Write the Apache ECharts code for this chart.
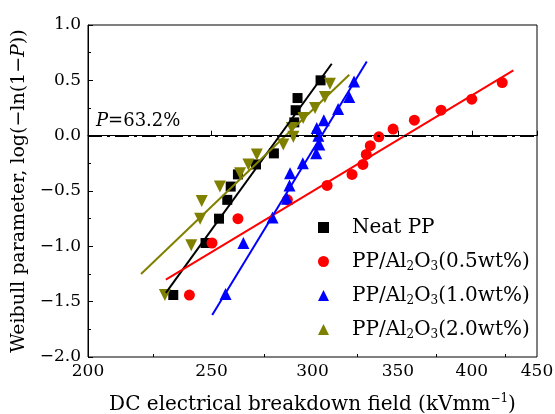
<!DOCTYPE html>
<html>

<head>
    <meta charset="utf-8">
    <script src="https://cdn.jsdelivr.net/npm/echarts@6/dist/echarts.min.js"></script>
</head>

<body style="margin:0">
    <div id="main" style="width: 555px;height:414px;"></div>
    <script type="text/javascript">
        // x ticks (kV/mm), the axis is logarithmic
        var xTicks = [200, 250, 300, 350, 400, 450];
        var xMinorTicks = [225, 275, 325, 375, 425];
        var refLevel = 0; // P = 63.2%

        var names = ['Neat PP', 'PP/Al2O3(0.5wt%)', 'PP/Al2O3(1.0wt%)', 'PP/Al2O3(2.0wt%)'];
        var colors = ['#000000', '#ff0000', '#0000ff', '#808000'];

        var neatX = [233.3, 247.3, 253.4, 257.2, 258.8, 262.2, 270.9, 279.8, 290.3, 291.0, 292.0, 304.4];
        var neatY = [-1.44, -0.97, -0.75, -0.58, -0.46, -0.35, -0.26, -0.16, 0.12, 0.23, 0.34, 0.50];

        var p05X = [240.2, 250.2, 262.2, 286.7, 308.0, 322.2, 328.6, 330.6, 333.0, 338.2, 347.0, 360.6, 378.4, 400.0, 422.6];
        var p05Y = [-1.44, -0.97, -0.75, -0.58, -0.45, -0.35, -0.26, -0.17, -0.09, -0.01, 0.06, 0.14, 0.23, 0.33, 0.48];

        var p10X = [256.4, 264.8, 279.1, 286.5, 287.8, 288.1, 294.8, 302.0, 303.7, 303.2, 302.3, 306.2, 314.2, 320.6, 323.4];
        var p10Y = [-1.43, -0.97, -0.74, -0.57, -0.45, -0.34, -0.25, -0.16, -0.08, 0.00, 0.07, 0.14, 0.24, 0.35, 0.49];

        var p20X = [229.8, 241.0, 244.9, 245.6, 253.8, 263.2, 267.2, 271.3, 284.6, 289.8, 289.0, 295.0, 301.4, 306.8, 309.6];
        var p20Y = [-1.44, -0.99, -0.75, -0.59, -0.46, -0.34, -0.26, -0.17, -0.08, -0.01, 0.07, 0.16, 0.25, 0.35, 0.47];

        // fitted lines (end points)
        var neatFitX = [230.2, 310.6], neatFitY = [-1.42, 0.65];
        var p05FitX = [230.2, 431.2], p05FitY = [-1.30, 0.59];
        var p10FitX = [250.3, 330.9], p10FitY = [-1.62, 0.67];
        var p20FitX = [220.1, 320.6], p20FitY = [-1.25, 0.55];

        var font = 'DejaVu Serif';
        var lg = function (v) { return Math.log10(v); };
        var pairs = function (xs, ys) { return xs.map(function (x, i) { return [lg(x), ys[i]]; }); };

        var symbols = ['rect', 'circle', 'triangle', 'triangle'];
        var sizes = [10, 11, 12, 12];
        var rotates = [0, 0, 0, 180];
        var dataX = [neatX, p05X, p10X, p20X];
        var dataY = [neatY, p05Y, p10Y, p20Y];
        var fitX = [neatFitX, p05FitX, p10FitX, p20FitX];
        var fitY = [neatFitY, p05FitY, p10FitY, p20FitY];

        var series = [];
        names.forEach(function (n, i) {
            var s = {
                name: n,
                type: 'scatter',
                data: pairs(dataX[i], dataY[i]),
                symbol: symbols[i],
                symbolSize: sizes[i],
                symbolRotate: rotates[i],
                itemStyle: { color: colors[i], opacity: 1 },
                z: 3
            };
            if (i === 0) {
                s.markLine = {
                    symbol: 'none',
                    silent: true,
                    label: { show: false },
                    lineStyle: { color: '#000', width: 2, type: [14, 5, 3, 5] },
                    data: [{ yAxis: refLevel }]
                };
            }
            series.push(s);
        });
        names.forEach(function (n, i) {
            series.push({
                name: n + ' fit',
                type: 'line',
                data: pairs(fitX[i], fitY[i]),
                showSymbol: false,
                symbol: 'none',
                lineStyle: { color: colors[i], width: 2 },
                z: 4
            });
        });

        var myChart = echarts.init(document.getElementById('main'));

        var option = {
            animation: false,
            backgroundColor: '#fff',
            grid: {
                left: 88, right: 18, top: 25, bottom: 57,
                outerBoundsMode: 'none',
                show: true, borderColor: '#000', borderWidth: 1
            },
            legend: {
                orient: 'vertical',
                left: 313,
                top: 211,
                itemWidth: 11,
                itemHeight: 11,
                itemGap: 11,
                data: names,
                formatter: function (name) {
                    return '{g| }' + name.replace('Al2O3', 'Al{s|2}O{s|3}');
                },
                textStyle: {
                    fontFamily: font, fontSize: 20, color: '#000', lineHeight: 23,
                    rich: {
                        g: { width: 18 },
                        s: { fontFamily: font, fontSize: 12, lineHeight: 23, verticalAlign: 'bottom', color: '#000' }
                    }
                }
            },
            graphic: [{
                type: 'text',
                left: 96,
                top: 112,
                style: {
                    text: '{i|P}=63.2%',
                    fontFamily: font, fontSize: 18, fill: '#000',
                    rich: { i: { fontFamily: font, fontSize: 18, fontStyle: 'italic', fill: '#000' } }
                }
            }],
            xAxis: [{
                type: 'value',
                min: lg(xTicks[0]),
                max: lg(xTicks[xTicks.length - 1]),
                name: 'DC electrical breakdown field (kVmm{sup|−1})',
                nameLocation: 'middle',
                nameGap: 36,
                nameTextStyle: {
                    fontFamily: font, fontSize: 20, color: '#000', lineHeight: 24,
                    rich: { sup: { fontFamily: font, fontSize: 12, lineHeight: 24, verticalAlign: 'top', color: '#000' } }
                },
                axisLine: { lineStyle: { color: '#000', width: 1 } },
                axisTick: { inside: true, length: 5, customValues: xTicks.map(lg), lineStyle: { color: '#000' } },
                axisLabel: {
                    customValues: xTicks.map(lg),
                    formatter: function (v) { return Math.round(Math.pow(10, v)); },
                    fontFamily: font, fontSize: 17, color: '#000', margin: 6
                },
                splitLine: { show: false }
            }, {
                type: 'value',
                position: 'bottom',
                min: lg(xTicks[0]),
                max: lg(xTicks[xTicks.length - 1]),
                axisLine: { show: false },
                axisTick: { inside: true, length: 3, customValues: xMinorTicks.map(lg), lineStyle: { color: '#000' } },
                axisLabel: { show: false },
                splitLine: { show: false }
            }],
            yAxis: {
                type: 'value',
                min: -2,
                max: 1,
                interval: 0.5,
                name: 'Weibull parameter, log(−ln(1−{i|P}))',
                nameLocation: 'middle',
                nameGap: 52,
                nameTextStyle: {
                    fontFamily: font, fontSize: 19, color: '#000',
                    rich: { i: { fontFamily: font, fontSize: 19, fontStyle: 'italic', color: '#000' } }
                },
                axisLine: { lineStyle: { color: '#000', width: 1 } },
                axisTick: { inside: true, length: 5, lineStyle: { color: '#000' } },
                minorTick: { show: true, splitNumber: 2, length: 3, lineStyle: { color: '#000' } },
                axisLabel: {
                    formatter: function (v) { return v.toFixed(1).replace('-', '−'); },
                    fontFamily: font, fontSize: 17, color: '#000', margin: 7
                },
                splitLine: { show: false }
            },
            series: series
        };

        myChart.setOption(option);
    </script>
</body>

</html>
